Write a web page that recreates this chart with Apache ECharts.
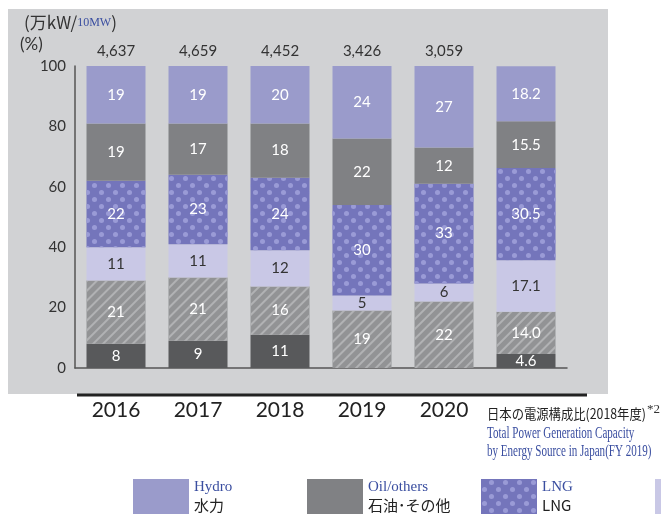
<!DOCTYPE html>
<html><head><meta charset="utf-8">
<script src="https://cdn.jsdelivr.net/npm/echarts@6/dist/echarts.min.js"></script>
<style>html,body{margin:0;padding:0;background:#fff}#c{width:661px;height:514px}</style>
</head><body><div id="c"></div>
<script>
const categories = ['2016','2017','2018','2019','2020','日本の電源構成比（2018年度）'];
const totals = ['4,637','4,659','4,452','3,426','3,059',''];
const seriesEn = ['Hydro','Oil/others','LNG','Coal','Nuclear','New energy'];
const seriesJp = ['水力','石油･その他','LNG','石炭','原子力','新エネルギー'];
const hydro = [19,19,20,24,27,18.2];
const oil = [19,17,18,22,12,15.5];
const lng = [22,23,24,30,33,30.5];
const coal = [11,11,12,5,6,17.1];
const nuclear = [21,21,16,19,22,14.0];
const newEnergy = [8,9,11,null,null,4.6];
const yTicks = [0,20,40,60,80,100];
const noteJp = '日本の電源構成比(2018年度)';
const noteMark = '*2';
const noteEn1 = 'Total Power Generation Capacity';
const noteEn2 = 'by Energy Source in Japan(FY 2019)';

const FONT = 'Lato, "Noto Sans", sans-serif';
const dotDecal = {symbol:'circle', symbolSize:0.72, color:'#9a9bd6',
  dashArrayX:[[6.5,6.5],[0,6.5,6.5,0]], dashArrayY:[6.5,0]};
const hatchDecal = {symbol:'rect', symbolSize:1, color:'#b1b2b4', rotation:-Math.PI/4,
  dashArrayX:[1,0], dashArrayY:[2,5]};

const defs = [
  {data:newEnergy, color:'#58595b', label:'#fff'},
  {data:nuclear, color:'#929395', label:'#fff', decal:hatchDecal},
  {data:coal, color:'#c9c8e6', label:'#333'},
  {data:lng, color:'#7475bb', label:'#fff', decal:dotDecal},
  {data:oil, color:'#808184', label:'#fff'},
  {data:hydro, color:'#9a9bcb', label:'#fff'}
];
const nameIdx = [5,4,3,2,1,0];
const series = defs.map((d,i)=>({
  name: seriesEn[nameIdx[i]],
  type:'bar', stack:'s', barWidth:59,
  data:d.data,
  itemStyle:{color:d.color, decal:d.decal||null},
  label:{show:true, position:'inside', color:d.label, fontFamily:FONT, fontSize:15,
    formatter:p=> p.value==null ? '' : (p.dataIndex===5 ? Number(p.value).toFixed(1) : String(p.value))},
  emphasis:{disabled:true}
}));

const chart = echarts.init(document.getElementById('c'));
chart.setOption({
  animation:false,
  backgroundColor:'#fff',
  grid:{left:75, top:66, width:492, height:302},
  xAxis:[
    {type:'category', data:categories, position:'bottom',
     axisLine:{lineStyle:{color:'#555', width:1.5}}, axisTick:{show:false},
     axisLabel:{margin:32, fontSize:21, color:'#222', fontFamily:FONT,
       formatter:(v,i)=> i===5 ? '' : v}},
    {type:'category', data:totals, position:'top',
     axisLine:{show:false}, axisTick:{show:false},
     axisLabel:{margin:7, fontSize:15, color:'#333', fontFamily:FONT}}
  ],
  yAxis:{type:'value', min:0, max:100, interval:20,
    axisLine:{show:true, lineStyle:{color:'#555', width:1.5}}, axisTick:{show:false},
    splitLine:{show:false},
    axisLabel:{margin:9, fontSize:15, color:'#333', fontFamily:FONT,
      formatter:v=> yTicks.includes(v) ? String(v) : ''}},
  legend:{
    data:[seriesEn[0],seriesEn[1],seriesEn[2],seriesEn[3],seriesEn[4],seriesEn[5]],
    left:133, top:479, width:1400, orient:'horizontal', padding:0,
    itemWidth:56, itemHeight:35, itemGap:10, icon:'rect',
    selectedMode:false,
    formatter:n=>{const i=seriesEn.indexOf(n); return '{en|'+n+'}\n{jp|'+seriesJp[i]+'}';},
    textStyle:{rich:{
      en:{fontFamily:'"Liberation Serif", serif', fontSize:15, color:'#3a4ea0', width:103, lineHeight:18},
      jp:{fontFamily:'"Noto Sans CJK JP", sans-serif', fontSize:15, color:'#222', width:103, lineHeight:18}
    }}
  },
  graphic:[
    {type:'rect', z:-10, silent:true, shape:{x:8, y:9, width:600, height:385}, style:{fill:'#d1d2d4'}},
    {type:'line', z:5, silent:true, shape:{x1:77, y1:395, x2:587, y2:395}, style:{stroke:'#222', lineWidth:3}},
    {type:'text', left:24, top:14, style:{
      text:'{a|(万kW/}{b|10MW}{a|)}',
      rich:{a:{fontFamily:'"Noto Sans CJK JP", sans-serif', fontSize:17, fill:'#333'},
            b:{fontFamily:'"Liberation Serif", serif', fontSize:12, fill:'#3a4ea0'}}}},
    {type:'text', left:20, top:36, style:{text:'(%)', font:'17px '+FONT, fill:'#333'}},
    {type:'text', x:487, y:407, scaleX:0.88, style:{text:noteJp, font:'14px "Noto Sans CJK JP", sans-serif', fill:'#222'}},
    {type:'text', x:647, y:403, style:{text:noteMark, font:'13px "Liberation Serif", serif', fill:'#333'}},
    {type:'text', x:487, y:426, scaleX:0.69, style:{text:noteEn1, font:'16px "Liberation Serif", serif', fill:'#3a4ea0'}},
    {type:'text', x:487, y:444, scaleX:0.69, style:{text:noteEn2, font:'16px "Liberation Serif", serif', fill:'#3a4ea0'}}
  ],
  series:series
});
</script></body></html>
